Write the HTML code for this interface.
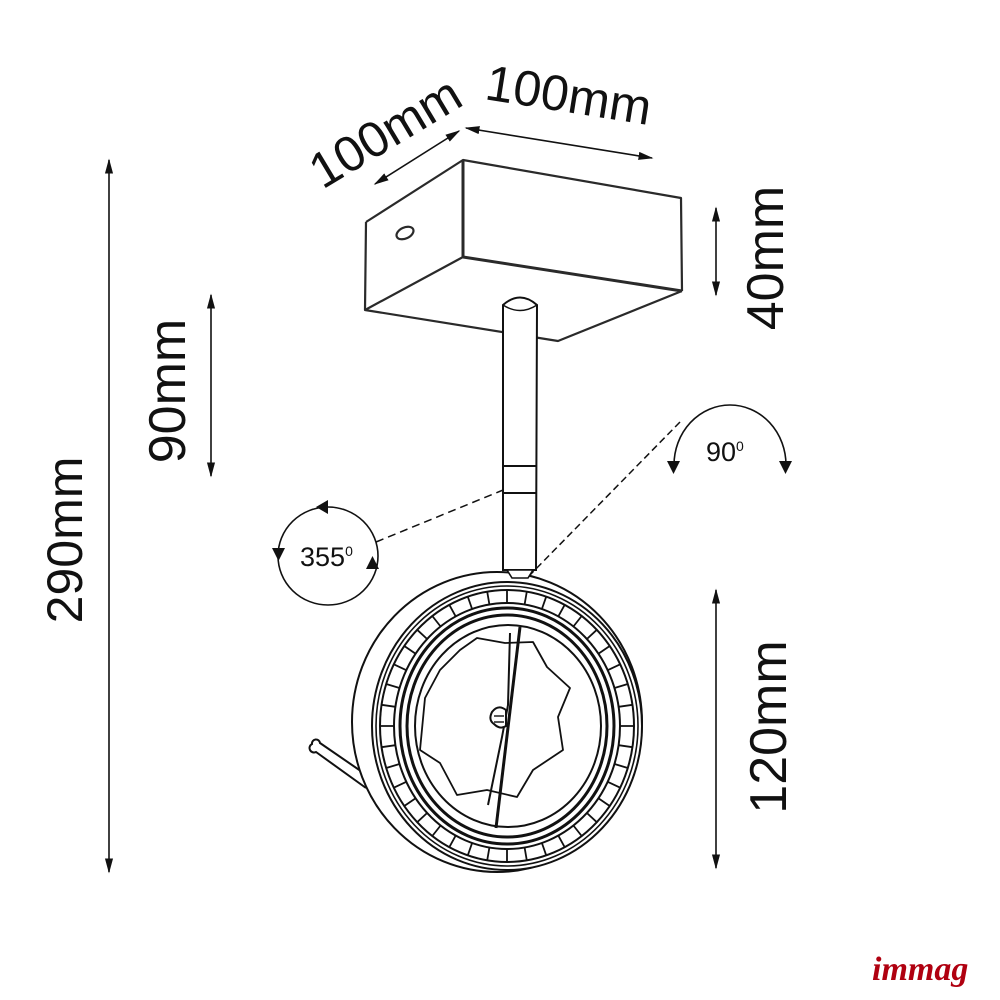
<!DOCTYPE html>
<html><head><meta charset="utf-8"><style>
html,body{margin:0;padding:0;background:#fff;}
svg{display:block}
text{font-family:"Liberation Sans",sans-serif;fill:#111}
</style></head><body>
<svg width="1000" height="1000" viewBox="0 0 1000 1000" xmlns="http://www.w3.org/2000/svg">
<defs>
<marker id="ah" viewBox="0 0 10 10" refX="9" refY="5" markerWidth="15" markerHeight="15" orient="auto-start-reverse" markerUnits="userSpaceOnUse"><path d="M0,2.3 L10,5 L0,7.7 z" fill="#111"/></marker>
</defs>
<g stroke="#111" fill="none" stroke-width="1.6">
<!-- dimension lines -->
<line x1="109" y1="160" x2="109" y2="872" marker-start="url(#ah)" marker-end="url(#ah)"/>
<line x1="211" y1="295" x2="211" y2="476" marker-start="url(#ah)" marker-end="url(#ah)"/>
<line x1="716" y1="208" x2="716" y2="295" marker-start="url(#ah)" marker-end="url(#ah)"/>
<line x1="716" y1="590" x2="716" y2="868" marker-start="url(#ah)" marker-end="url(#ah)"/>
<line x1="375" y1="184" x2="459" y2="131" marker-start="url(#ah)" marker-end="url(#ah)"/>
<line x1="466" y1="128" x2="652" y2="158" marker-start="url(#ah)" marker-end="url(#ah)"/>
<!-- box -->
<g stroke-width="2.2" stroke-linejoin="round" stroke="#2a2a2a">
<polyline points="366,222 463,160 681,198 682,291"/>
<line x1="463" y1="160" x2="463" y2="257" stroke-width="3"/>
<line x1="463" y1="257" x2="682" y2="291" stroke-width="3"/>
<line x1="463" y1="257" x2="365" y2="310"/>
<polyline points="366,222 365,310 558,341 682,291"/>
<ellipse cx="405" cy="233" rx="9" ry="5.5" transform="rotate(-25 405 233)"/>
</g>
<!-- rod -->
<path d="M503,570 L503,305 Q520,290 537,305 L536,570 Z" fill="#fff" stroke-width="2"/>
<path d="M503,305 Q520,316 537,305" stroke-width="1.4"/>
<line x1="503" y1="466" x2="536" y2="466" stroke-width="2"/>
<line x1="503" y1="493" x2="536" y2="493" stroke-width="2"/>
<!-- dashed -->
<line x1="376" y1="542" x2="508" y2="488" stroke-dasharray="8,5" stroke-width="1.5"/>
<line x1="680" y1="422" x2="528" y2="577" stroke-dasharray="7,4" stroke-width="1.5"/>
<!-- rotation 355 -->
<ellipse cx="328" cy="556" rx="50" ry="49" stroke-width="1.6"/>
<path d="M316,507 l12,-7 l0,14 z" fill="#111" stroke="none"/>
<path d="M272,548 l13,0 l-6.5,13 z" fill="#111" stroke="none"/>
<path d="M366,569 l13,0 l-6.5,-13 z" fill="#111" stroke="none"/>
<!-- rotation 90 -->
<path d="M674,465 A56,60 0 0 1 786,465" stroke-width="1.6"/>
<path d="M667,461 l13,0 l-6.5,13 z" fill="#111" stroke="none"/>
<path d="M779,461 l13,0 l-6.5,13 z" fill="#111" stroke="none"/>
<!-- lamp arm -->
<path d="M366,788 L316,752 A4,4 0 0 1 312,744 A4,4 0 0 1 320,743 L368,776" fill="#fff" stroke-width="2"/>
<!-- housing -->
<ellipse cx="497" cy="722" rx="145" ry="150" fill="#fff" stroke-width="2"/>
<ellipse cx="507" cy="726" rx="135" ry="144" fill="#fff" stroke-width="2"/>
<ellipse cx="507" cy="726" rx="131" ry="140" stroke-width="1.6"/>
<ellipse cx="507" cy="726" rx="127" ry="136" stroke-width="2"/>
<ellipse cx="507" cy="726" rx="113" ry="123" stroke-width="2"/>
<path stroke-width="1.8" d="M620,726L634,726M618.6,745.2L632.5,747.2M614.5,764L627.8,768M607.7,781.8L620.2,787.7M598.4,798.3L609.7,806M586.9,813L596.8,822.2M573.4,825.5L581.7,836M558.3,835.6L564.7,847.2M541.9,843L546.2,855.3M524.6,847.5L526.8,860.4M507,849L507,862M489.4,847.5L487.2,860.4M472.1,843L467.8,855.3M455.7,835.6L449.3,847.2M440.6,825.5L432.3,836M427.1,813L417.2,822.2M415.6,798.3L404.3,806M406.3,781.8L393.8,787.7M399.5,764L386.2,768M395.4,745.2L381.5,747.2M394,726L380,726
M618.6,706.8L632.5,704.8M614.5,688L627.8,684M607.7,670.2L620.2,664.3M598.4,653.7L609.7,646M586.9,639L596.8,629.8M573.4,626.5L581.7,616M558.3,616.4L564.7,604.8M541.9,609L546.2,596.7M524.6,604.5L526.8,591.6M507,603L507,590M489.4,604.5L487.2,591.6M472.1,609L467.8,596.7M455.7,616.4L449.3,604.8M440.6,626.5L432.3,616M427.1,639L417.2,629.8M415.6,653.7L404.3,646M406.3,670.2L393.8,664.3M399.5,688L386.2,684M395.4,706.8L381.5,704.8"/>
<ellipse cx="507" cy="726" rx="107" ry="118" stroke-width="3"/>
<ellipse cx="507" cy="726" rx="100" ry="111" stroke-width="3"/>
<ellipse cx="508" cy="726" rx="93" ry="101" stroke-width="2"/>
<!-- star reflector -->
<polygon points="477,638 505,643 533,642 547,667 570,688 558,717 563,750 533,770 517,797 487,790 457,795 440,763 420,750 425,698 440,670 460,650" stroke-width="1.8" stroke-linejoin="round"/>
<!-- stem -->
<line x1="520" y1="627" x2="496" y2="828" stroke-width="3"/>
<polyline points="510,633 508,705 502,737 488,805" stroke-width="2"/>
<path d="M506,710 q-8,-6 -14,2 q-4,8 2,12 q6,6 12,2 z" fill="#fff" stroke-width="2"/>
<line x1="494" y1="716" x2="504" y2="716" stroke-width="1.4"/>
<line x1="494" y1="722" x2="504" y2="722" stroke-width="1.4"/>
<path d="M507,570 L533,570 L528,578 L512,578 Z" fill="#fff" stroke-width="1.6"/>
</g>
<!-- texts -->
<text x="0" y="0" font-size="50" text-anchor="middle" transform="translate(82,540) rotate(-90)">290mm</text>
<text x="0" y="0" font-size="52" text-anchor="middle" transform="translate(185,391) rotate(-90)">90mm</text>
<text x="0" y="0" font-size="52" text-anchor="middle" transform="translate(783,258) rotate(-90)">40mm</text>
<text x="0" y="0" font-size="52" text-anchor="middle" transform="translate(786,727) rotate(-90)">120mm</text>
<text x="0" y="0" font-size="50" text-anchor="middle" transform="translate(394,147) rotate(-31)">100mm</text>
<text x="0" y="0" font-size="50" text-anchor="middle" transform="translate(566,112) rotate(9)">100mm</text>
<text x="300" y="566" font-size="27">355<tspan font-size="14" dy="-10">0</tspan></text>
<text x="706" y="461" font-size="27">90<tspan font-size="14" dy="-10">0</tspan></text>
<text x="872" y="980" font-size="34" font-style="italic" font-weight="bold" style="font-family:'Liberation Serif',serif;fill:#b00010">immag</text>
</svg>
</body></html>
